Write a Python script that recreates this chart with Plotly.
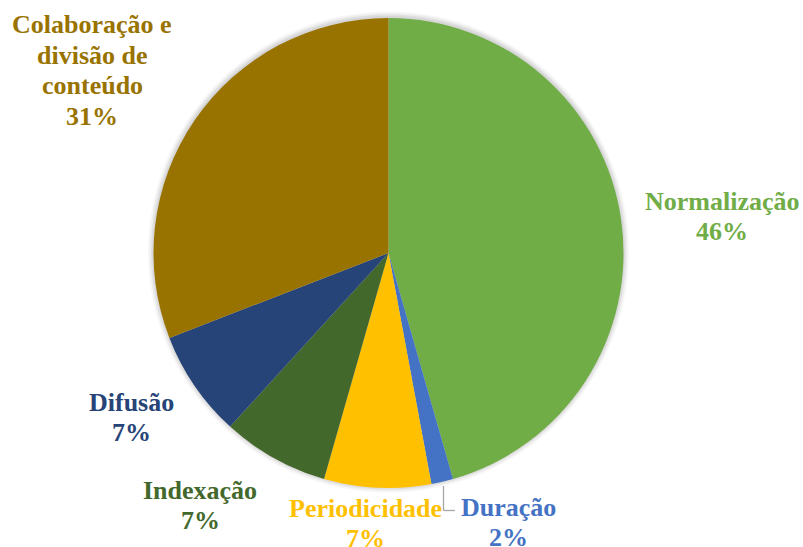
import plotly.graph_objects as go

categories = ["Normalização", "Duração", "Periodicidade", "Indexação", "Difusão",
              "Colaboração e divisão de conteúdo"]
label_lines = [["Normalização"], ["Duração"], ["Periodicidade"], ["Indexação"], ["Difusão"],
               ["Colaboração e", "divisão de", "conteúdo"]]
values = [45.6, 1.5, 7.35, 7.35, 7.35, 30.9]
pct_labels = ["46%", "2%", "7%", "7%", "7%", "31%"]
colors = ["#70AD47", "#4472C4", "#FFC000", "#43682B", "#264478", "#997300"]

W, H = 803, 547
cx, cy, r = 388.5, 253, 235

fig = go.Figure(go.Pie(
    labels=categories,
    values=values,
    sort=False,
    direction="clockwise",
    rotation=0,
    marker=dict(colors=colors, line=dict(width=0)),
    textinfo="none",
    hoverinfo="label+percent",
    domain=dict(x=[(cx - r) / W, (cx + r) / W], y=[(H - cy - r) / H, (H - cy + r) / H]),
    showlegend=False,
))

# soft shadow around the pie
shapes = []
for i, a in enumerate([0.05, 0.05, 0.04, 0.03]):
    rr = r + 1 + i * 1.5
    shapes.append(dict(type="circle", xref="paper", yref="paper", layer="below",
                       x0=(cx - rr) / W, x1=(cx + rr) / W,
                       y0=(H - cy + 1 - rr) / H, y1=(H - cy + 1 + rr) / H,
                       fillcolor=f"rgba(0,0,0,{a})", line=dict(width=0)))

# leader line for Duração
lead = [(443.5, 486), (443.5, 510.5), (455, 510.5)]
for (x0, y0), (x1, y1) in zip(lead[:-1], lead[1:]):
    shapes.append(dict(type="line", xref="paper", yref="paper",
                       x0=x0 / W, y0=1 - y0 / H, x1=x1 / W, y1=1 - y1 / H,
                       line=dict(color="#A6A6A6", width=1.3)))

# (center x, first-line center y) of each label block
label_pos = [(722, 201), (508, 507), (365, 508), (200, 490), (131, 402), (92, 24.5)]
line_step = 30.5
annotations = []
for lines, pct, col, (x, y) in zip(label_lines, pct_labels, colors, label_pos):
    for k, t in enumerate(lines + [pct]):
        annotations.append(dict(
            x=x / W, y=1 - (y + k * line_step) / H, xref="paper", yref="paper",
            text=f"<b>{t}</b>", showarrow=False,
            xanchor="center", yanchor="middle", align="center",
            font=dict(family="Liberation Serif, Times New Roman, serif", size=26, color=col),
        ))

fig.update_layout(
    width=W, height=H,
    margin=dict(l=0, r=0, t=0, b=0),
    paper_bgcolor="white", plot_bgcolor="white",
    font=dict(family="Liberation Serif, Times New Roman, serif"),
    shapes=shapes, annotations=annotations,
)

fig.write_html("out.html", config={"displayModeBar": False},
               post_script="document.body.style.margin='0';document.body.style.padding='0';")
